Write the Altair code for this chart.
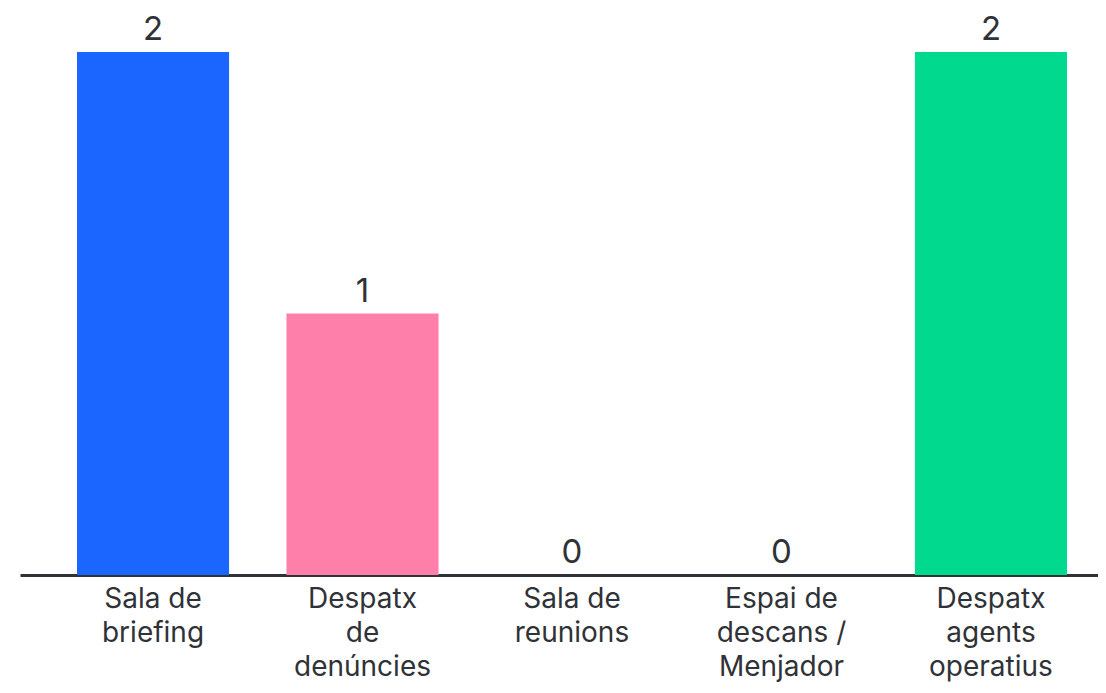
import altair as alt
import pandas as pd

categories = [
    "Sala de\nbriefing",
    "Despatx\nde\ndenúncies",
    "Sala de\nreunions",
    "Espai de\ndescans /\nMenjador",
    "Despatx\nagents\noperatius",
]
values = [2, 1, 0, 0, 2]
colors = ["#1a66ff", "#ff7fab", "#1a66ff", "#1a66ff", "#00d98e"]

df = pd.DataFrame({"cat": categories, "value": values, "color": colors})

FONT = "Inter"
TXT = "#2f3237"

x = alt.X(
    "cat:N",
    sort=categories,
    scale=alt.Scale(range=[12, 1116], paddingInner=0.274, paddingOuter=0.272),
    axis=alt.Axis(
        title=None,
        labelAngle=0,
        labelExpr="split(datum.label, '\\n')",
        labelFont=FONT,
        labelFontSize=28,
        labelColor=TXT,
        labelLineHeight=34,
        labelBaseline="top",
        labelPadding=10,
        labelAlign="center",
        ticks=False,
        domainColor=TXT,
        domainWidth=3,
        grid=False,
    ),
)
y = alt.Y("value:Q", scale=alt.Scale(domain=[0, 2], nice=False), axis=None)

bars = alt.Chart(df).mark_bar().encode(
    x=x, y=y, color=alt.Color("color:N", scale=None)
)
labels = alt.Chart(df).mark_text(
    baseline="alphabetic", dy=-12, font=FONT, fontSize=33, color=TXT
).encode(x=x, y=y, text="value:Q")

chart = (
    alt.layer(bars, labels)
    .properties(
        width=1090,
        height=523,
        autosize=alt.AutoSizeParams(type="none"),
        padding={"top": 44, "left": 0, "right": 0, "bottom": 110},
    )
    .configure_view(stroke=None)
)

chart.save("out.html", embed_options={"renderer": "svg", "actions": False})
